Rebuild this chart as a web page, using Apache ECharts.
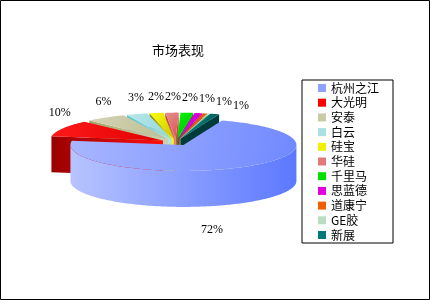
<!DOCTYPE html>
<html><head><meta charset="utf-8">
<script src="https://cdn.jsdelivr.net/npm/echarts@6.0.0/dist/echarts.min.js"></script>
<style>html,body{margin:0;padding:0;background:#fff}#c{width:430px;height:300px}</style>
</head><body><div id="c"></div>
<script>
const title = '市场表现';
const categories = ['杭州之江','大光明','安泰','白云','硅宝','华硅','千里马','思蓝德','道康宁','GE胶','新展'];
const values = [72.0, 10.2, 5.8, 3.0, 2.0, 1.9, 1.8, 1.1, 0.6, 0.3, 1.3];
const colors = ['#8FA2FF','#FF0000','#CACAA6','#A8E0E4','#F0F000','#E07A7A','#00E000','#E000E0','#F06000','#B8E0C0','#007878'];

// layout (pie geometry, like pie center/radius)
const CX = 176, CY = 142, RX = 113, RY = 26, H = 36, EXPLODE = 0.13, START = 70;
const D2R = Math.PI / 180;

function hexToRgb(h){h=h.replace('#','');return [parseInt(h.substr(0,2),16),parseInt(h.substr(2,2),16),parseInt(h.substr(4,2),16)];}
function rgbToHsl(r,g,b){r/=255;g/=255;b/=255;const mx=Math.max(r,g,b),mn=Math.min(r,g,b);let h=0,s=0;const l=(mx+mn)/2;if(mx!==mn){const d=mx-mn;s=l>0.5?d/(2-mx-mn):d/(mx+mn);if(mx===r)h=(g-b)/d+(g<b?6:0);else if(mx===g)h=(b-r)/d+2;else h=(r-g)/d+4;h/=6;}return [h,s,l];}
function hslToHex(h,s,l){function f(p,q,t){if(t<0)t+=1;if(t>1)t-=1;if(t<1/6)return p+(q-p)*6*t;if(t<1/2)return q;if(t<2/3)return p+(q-p)*(2/3-t)*6;return p;}let r,g,b;if(s===0){r=g=b=l;}else{const q=l<0.5?l*(1+s):l+s-l*s,p=2*l-q;r=f(p,q,h+1/3);g=f(p,q,h);b=f(p,q,h-1/3);}const x=v=>('0'+Math.round(v*255).toString(16)).slice(-2);return '#'+x(r)+x(g)+x(b);}
function shade(hex,dl){const [r,g,b]=hexToRgb(hex);const [h,s,l]=rgbToHsl(r,g,b);return hslToHex(h,s,Math.max(0,Math.min(1,l+dl)));}

const total = values.reduce((a,b)=>a+b,0);
let acc = 0;
const slices = values.map((v,i)=>{
  const a0 = START - acc/total*360; acc += v; const a1 = START - acc/total*360;
  const mid = (a0+a1)/2, mr = mid*D2R;
  return {i, a0, a1, mid, cx: CX + EXPLODE*RX*Math.cos(mr), cy: CY - EXPLODE*RY*Math.sin(mr), pct: Math.round(v/total*100)};
});
// painter order: back first
const order = slices.slice().sort((p,q)=>Math.sin(q.mid*D2R)-Math.sin(p.mid*D2R));
order.forEach((s,r)=>{ s.rank = r; });

// label layout derived from slices
const upper = [], lower = [];
slices.forEach(s=>{
  if (s.pct <= 0) return;
  const mr = s.mid*D2R;
  if (Math.sin(mr) >= 0) upper.push({s, xn: s.cx + 1.03*RX*Math.cos(mr)});
  else lower.push({s, x: s.cx + 0.5*RX*Math.cos(mr), y: s.cy - RY*Math.sin(mr) + H + 27});
});
upper.sort((a,b)=>a.xn-b.xn);
let prevX = -1e9;
upper.forEach(l=>{
  l.x = Math.max(l.xn, prevX + 17); prevX = l.x;
  const rel = (l.x - l.s.cx)/(1.03*RX);
  l.y = l.s.cy - RY*Math.sqrt(Math.max(0,1-rel*rel)) - 16 + 0.2*(l.x - l.xn);
});
const labelPos = {};
upper.concat(lower).forEach(l=>{ labelPos[l.s.i] = [l.x, l.y]; });

function P(s, deg, dz){ return [s.cx + RX*Math.cos(deg*D2R), s.cy - RY*Math.sin(deg*D2R) + (dz||0)]; }
function grad(x2,y2,c1,c2){ return {type:'linear',x:0,y:0,x2:x2,y2:y2,colorStops:[{offset:0,color:c1},{offset:1,color:c2}]}; }

function renderItem(params, api){
  const k = params.seriesIndex, s = slices[k], c = colors[k], base = s.rank*10;
  const children = [];
  // outer wall, front part only
  const lo = Math.max(s.a1, -180), hi = Math.min(s.a0, 0);
  if (hi > lo) {
    const pts = [];
    for (let a = hi; a > lo; a -= 1) pts.push(P(s,a,0));
    pts.push(P(s,lo,0));
    for (let a = lo; a < hi; a += 1) pts.push(P(s,a,H));
    pts.push(P(s,hi,H));
    children.push({type:'polygon', z2: base+1, shape:{points:pts}, style:{fill: grad(1,0,shade(c,0.08),shade(c,-0.1))}});
  }
  // start radial face
  if (Math.cos(s.a0*D2R) < 0) {
    const r = P(s,s.a0,0);
    children.push({type:'polygon', z2: base+2, shape:{points:[[s.cx,s.cy], r, [r[0],r[1]+H], [s.cx,s.cy+H]]},
      style:{fill: grad(1,0,shade(c,-0.2),shade(c,0.03))}});
  }
  // end radial face
  if (Math.cos(s.a1*D2R) > 0) {
    const r = P(s,s.a1,0);
    children.push({type:'polygon', z2: base+2, shape:{points:[[s.cx,s.cy], r, [r[0],r[1]+H], [s.cx,s.cy+H]]},
      style:{fill: shade(c,-0.12)}});
  }
  // top
  const tp = [[s.cx,s.cy]];
  for (let a = s.a0; a > s.a1; a -= 1) tp.push(P(s,a,0));
  tp.push(P(s,s.a1,0));
  children.push({type:'polygon', z2: base+5, shape:{points:tp}, style:{fill: grad(1,0.6,shade(c,0.05),shade(c,-0.06))}});
  // label
  if (labelPos[k]) {
    children.push({type:'text', z2: 1000, style:{x: labelPos[k][0], y: labelPos[k][1], text: s.pct + '%',
      fill:'#000', font:'12px "Liberation Serif", serif', align:'center', verticalAlign:'middle'}});
  }
  return {type:'group', children};
}

const chart = echarts.init(document.getElementById('c'), null, {renderer:'canvas'});
chart.setOption({
  animation: false,
  color: colors,
  backgroundColor: '#fff',
  title: { text: title, left: 152, top: 44, padding: 0,
    textStyle: { fontSize: 13, fontWeight: 'normal', color: '#000', fontFamily: '"Noto Sans CJK SC", sans-serif' } },
  legend: { orient: 'vertical', left: 302, top: 80, padding: [2, 14, 2, 16], itemWidth: 8, itemHeight: 8, itemGap: 2.7,
    icon: 'rect', borderColor: '#000', borderWidth: 1, borderRadius: 0, selectedMode: false,
    itemStyle: { borderWidth: 0 },
    textStyle: { fontSize: 12, color: '#000', fontFamily: '"Noto Sans CJK SC", sans-serif' },
    data: categories },
  graphic: [{ type: 'rect', shape: { x: 0.5, y: 0.5, width: 429, height: 299 }, style: { fill: 'none', stroke: '#000', lineWidth: 1 }, silent: true }],
  series: categories.map((name, k) => ({ type: 'custom', name, coordinateSystem: 'none', silent: true,
    data: [[values[k]]], renderItem }))
});
</script></body></html>
